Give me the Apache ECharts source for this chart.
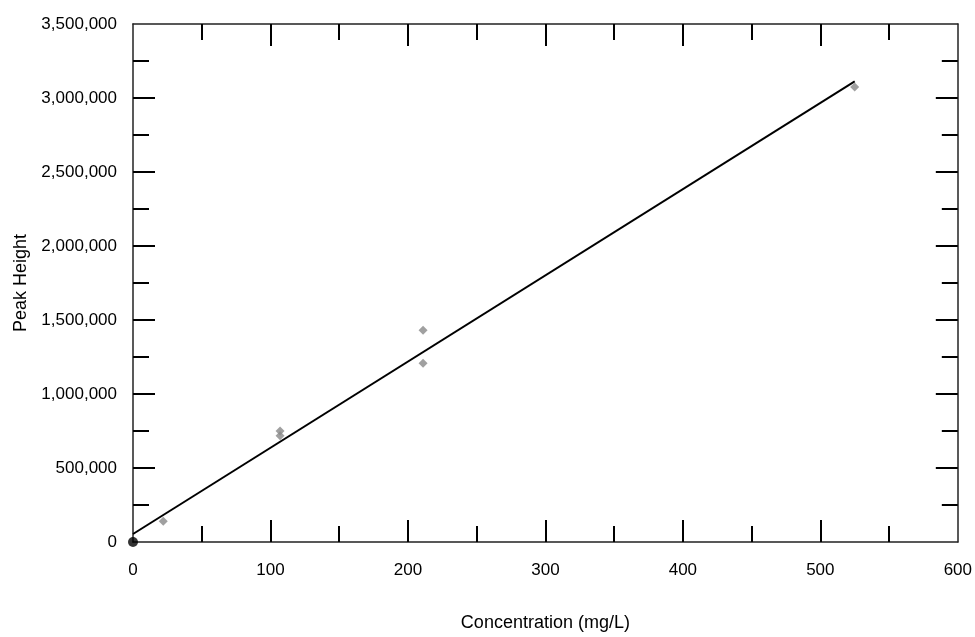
<!DOCTYPE html>
<html>
<head>
<meta charset="utf-8">
<script src="https://cdn.jsdelivr.net/npm/echarts@6/dist/echarts.min.js"></script>
<style>html,body{margin:0;padding:0;background:#fff}#c{width:975px;height:637px}</style>
</head>
<body>
<div id="c"></div>
<script>
var concX = [22, 107, 107, 211, 211, 525];
var peakY = [140000, 750000, 718000, 1430000, 1208000, 3075000];
var originPoint = [[0, 0]];
var fitLine = [[0, 54000], [525, 3112000]];
var xTicks = [0, 100, 200, 300, 400, 500, 600];
var yTicks = [0, 500000, 1000000, 1500000, 2000000, 2500000, 3000000, 3500000];

var chart = echarts.init(document.getElementById('c'));
var font = 'Liberation Sans, Arial, sans-serif';
function fmt(v){ return v.toString().replace(/\B(?=(\d{3})+(?!\d))/g, ','); }
var xInner = xTicks.slice(1, -1);
var yInner = yTicks.slice(1, -1);
function tick(vals){ return {show:true, inside:true, length:22, customValues:vals, lineStyle:{color:'#000', width:2}}; }
var minorStyle = {show:true, splitNumber:2, length:16, lineStyle:{color:'#000', width:2}};
var lineStyleAx = {show:true, onZero:false, lineStyle:{color:'#222', width:1.5}};

chart.setOption({
  animation:false,
  backgroundColor:'#fff',
  grid:{left:133, right:14, top:24, bottom:94},
  xAxis:[{
    type:'value', min:xTicks[0], max:xTicks[xTicks.length-1], interval:100, position:'bottom',
    name:'Concentration (mg/L)', nameLocation:'middle', nameGap:72,
    nameTextStyle:{fontFamily:font, fontSize:18, color:'#000'},
    axisLine:lineStyleAx, axisTick:tick(xInner), minorTick:minorStyle,
    splitLine:{show:false},
    axisLabel:{fontFamily:font, fontSize:17, color:'#000', margin:20}
  },{
    type:'value', min:xTicks[0], max:xTicks[xTicks.length-1], interval:100, position:'top',
    axisLine:lineStyleAx, axisTick:tick(xInner), minorTick:minorStyle,
    splitLine:{show:false}, axisLabel:{show:false}
  }],
  yAxis:[{
    type:'value', min:yTicks[0], max:yTicks[yTicks.length-1], interval:500000, position:'left',
    name:'Peak Height', nameLocation:'middle', nameGap:100,
    nameTextStyle:{fontFamily:font, fontSize:18, color:'#000'},
    axisLine:lineStyleAx, axisTick:tick(yInner), minorTick:minorStyle,
    splitLine:{show:false},
    axisLabel:{fontFamily:font, fontSize:17, color:'#000', margin:16, formatter:fmt}
  },{
    type:'value', min:yTicks[0], max:yTicks[yTicks.length-1], interval:500000, position:'right',
    axisLine:lineStyleAx, axisTick:tick(yInner), minorTick:minorStyle,
    splitLine:{show:false}, axisLabel:{show:false}
  }],
  series:[{
    type:'line', data:fitLine, symbol:'none', lineStyle:{color:'#000', width:2}, z:3
  },{
    type:'scatter', data:concX.map(function(x,i){return [x, peakY[i]];}),
    symbol:'diamond', symbolSize:9, itemStyle:{color:'#888'}, z:4
  },{
    type:'scatter', data:originPoint, symbol:'circle', symbolSize:10, clip:false,
    itemStyle:{color:'#000'}, z:5
  }]
});
</script>
</body>
</html>
